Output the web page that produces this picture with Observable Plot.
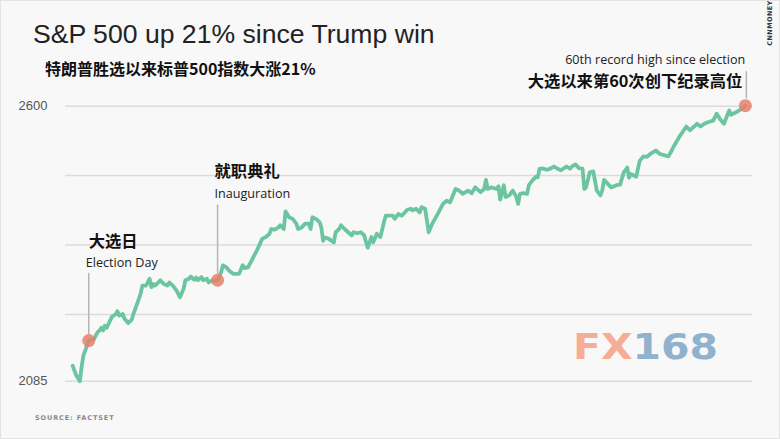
<!DOCTYPE html>
<html><head><meta charset="utf-8">
<script src="https://cdn.jsdelivr.net/npm/d3@7"></script>
<script src="https://cdn.jsdelivr.net/npm/@observablehq/plot@0.6"></script>
<style>
html,body{margin:0;padding:0;background:#f8f8f8;}
#chart{position:relative;width:780px;height:439px;}
</style></head><body><div id="chart"></div>
<script>
const titleText = "S&P 500 up 21% since Trump win";
const subtitleText = "特朗普胜选以来标普500指数大涨21%";
const sourceText = "SOURCE: FACTSET";
const brandText = "CNNMONEY";
const watermarkA = "FX";
const watermarkB = "168";
const electionDate = "2016-11-09";

// days since election day, and S&P 500 close
const days = [-9,-7,-5,-4,-3,-2,0,3,4,5,6,7,8,9,10,12,13,15,16,17,19,20,22,24,25,27,29,30,32,33,34,35,36,37,38,40,42,44,45,47,49,51,53,54,56,57,59,60,61,63,64,66,67,69,72,74,75,77,79,81,84,86,87,89,91,94,97,99,101,102,104,106,107,109,110,112,114,116,117,119,121,123,124,125,127,129,130,131,132,134,137,138,140,141,143,145,147,148,150,152,154,155,156,158,159,161,163,165,166,168,170,171,173,175,178,180,181,183,185,186,188,190,192,195,198,200,202,205,207,209,212,214,216,219,221,222,223,225,228,229,230,232,233,235,237,239,240,241,243,245,246,248,250,251,252,254,256,258,260,262,264,267,269,270,272,274,276,277,278,280,282,284,286,287,288,290,292,295,297,299,301,302,303,306,308,310,312,314,317,319,322,324,326,327,330,334,336,340,342,344,346,349,351,353,355,358,359,362,364,367];
const close = [2114,2096,2085,2111,2133,2142,2161,2164,2171,2177,2180,2185,2180,2189,2185,2199,2206,2210,2216,2208,2211,2202,2194,2200,2211,2230,2249,2264,2264,2270,2277,2261,2267,2264,2267,2274,2267,2264,2270,2264,2255,2242,2258,2274,2277,2281,2275,2279,2274,2280,2274,2277,2270,2274,2274,2289,2302,2298,2290,2286,2286,2302,2297,2298,2311,2330,2352,2355,2361,2370,2369,2373,2377,2370,2403,2392,2389,2380,2370,2373,2380,2380,2370,2392,2389,2383,2373,2348,2354,2352,2345,2364,2370,2377,2370,2364,2358,2364,2362,2364,2358,2345,2335,2355,2345,2361,2355,2383,2395,2395,2395,2389,2398,2395,2406,2408,2405,2408,2401,2411,2408,2364,2380,2398,2417,2423,2420,2445,2442,2436,2442,2437,2448,2439,2445,2462,2445,2448,2445,2450,2425,2452,2430,2433,2442,2430,2417,2436,2437,2436,2452,2461,2468,2467,2483,2483,2481,2483,2487,2483,2480,2487,2483,2487,2491,2484,2483,2445,2448,2476,2478,2442,2433,2442,2462,2455,2448,2452,2453,2476,2485,2466,2473,2468,2498,2506,2505,2511,2517,2511,2508,2506,2518,2525,2542,2562,2555,2567,2562,2567,2570,2573,2586,2575,2567,2592,2584,2589,2593,2601];

const eventDays = [0, 72, 367];
const eventValues = [2161, 2274, 2601];
const eventEn = ["Election Day", "Inauguration", "60th record high since election"];
const eventCn = ["大选日", "就职典礼", "大选以来第60次创下纪录高位"];

const yTicks = [2085, 2600];
const gridValues = [2085, 2210, 2340, 2470, 2600];
const xDomainDays = [-13, 371];
const yDomain = [2085, 2600];

const base = new Date(electionDate);
const toDate = d => d3.utcDay.offset(base, d);
const series = days.map((d, i) => ({date: toDate(d), close: close[i]}));
const events = eventDays.map((d, i) => ({date: toDate(d), value: eventValues[i], en: eventEn[i], cn: eventCn[i]}));

// annotation layout (pixels)
const layout = [
  {dx: -3, dyEn: -78, dyCn: -99, dxCn: 0, anchor: "start", lineDy: -7, lineLen: 60, lineDx: 0},
  {dx: -3, dyEn: -86, dyCn: -108, dxCn: -3, anchor: "start", lineDy: -7, lineLen: 68, lineDx: 0},
  {dx: 0, dyEn: -46, dyCn: -24, dxCn: -3, anchor: "end", lineDy: -8, lineLen: 26, lineDx: 1}
];

const latin = "'Open Sans', 'Noto Sans', sans-serif";
const cjk = "'Noto Sans CJK SC', sans-serif";
const stick = {draw(ctx, l) { ctx.moveTo(0, 0); ctx.lineTo(0, -l); }};

const annotationMarks = [];
events.forEach((e, i) => {
  const L = layout[i];
  annotationMarks.push(
    Plot.vector([e], {x: "date", y: "value", length: L.lineLen, anchor: "start", shape: stick, dx: L.lineDx, dy: L.lineDy, stroke: "#b5b5b5", strokeWidth: 1.5}),
    Plot.text([e], {x: "date", y: "value", text: "en", dx: L.dx, dy: L.dyEn, textAnchor: L.anchor, fontSize: 12.6, fontFamily: latin, fill: "#222"}),
    Plot.text([e], {x: "date", y: "value", text: "cn", dx: L.dxCn, dy: L.dyCn, textAnchor: L.anchor, fontSize: 16.3, fontWeight: "bold", fontFamily: cjk, fill: "#111"})
  );
});

const plot = Plot.plot({
  width: 780, height: 439,
  marginLeft: 65, marginRight: 28, marginTop: 105.7, marginBottom: 58.3,
  x: {type: "utc", domain: xDomainDays.map(toDate), axis: null},
  y: {domain: yDomain},
  style: {background: "#f8f8f8", overflow: "visible"},
  marks: [
    Plot.ruleY(gridValues, {stroke: "#dcdcdc", strokeWidth: 1.5}),
    Plot.axisY(yTicks, {tickSize: 0, tickPadding: 18, tickFormat: "d", fontSize: 13, fill: "#555", fontFamily: "'Liberation Sans', Arial, sans-serif", label: null}),
    Plot.line(series, {x: "date", y: "close", stroke: "#6cc5a1", strokeWidth: 3.8, strokeLinejoin: "round", strokeLinecap: "round"}),
    ...annotationMarks,
    Plot.dot(events, {x: "date", y: "value", r: 6.5, fill: "#e8806b", fillOpacity: 0.85})
  ]
});

const svg = d3.select(plot);
svg.insert("rect", ":first-child").attr("x", 0.5).attr("y", 0.5).attr("width", 779).attr("height", 438)
  .attr("fill", "#f8f8f8").attr("stroke", "#e3e3e3");

// watermark
const wm = svg.insert("text", "g").attr("x", 573).attr("y", 359).attr("text-anchor", "start")
  .attr("font-family", "'DejaVu Sans', sans-serif").attr("font-weight", "bold").attr("font-size", 35)
  .attr("textLength", 145).attr("lengthAdjust", "spacingAndGlyphs");
wm.append("tspan").attr("fill", "#f5ad95").text(watermarkA);
wm.append("tspan").attr("fill", "#90b2cc").text(watermarkB);

svg.append("text").attr("x", 33).attr("y", 43).attr("text-anchor", "start").text(titleText)
  .attr("font-family", "'Liberation Sans', Arial, sans-serif").attr("font-size", 26.6).attr("fill", "#222");
svg.append("text").attr("x", 45).attr("y", 75).attr("text-anchor", "start").text(subtitleText)
  .attr("font-family", cjk).attr("font-weight", "bold").attr("font-size", 16).attr("fill", "#111");
svg.append("text").attr("x", 35).attr("y", 420).attr("text-anchor", "start").text(sourceText)
  .attr("font-family", "'DejaVu Sans', sans-serif").attr("font-weight", "bold").attr("font-size", 6.5)
  .attr("letter-spacing", 0.9).attr("fill", "#8a8a8a");
svg.append("text").attr("transform", "translate(770,23) rotate(-90)").text(brandText)
  .attr("text-anchor", "middle").attr("dominant-baseline", "middle")
  .attr("font-family", "'DejaVu Sans', sans-serif").attr("font-weight", "bold").attr("font-size", 6.5)
  .attr("letter-spacing", 0.4).attr("fill", "#333");

document.getElementById("chart").appendChild(plot);
</script></body></html>
